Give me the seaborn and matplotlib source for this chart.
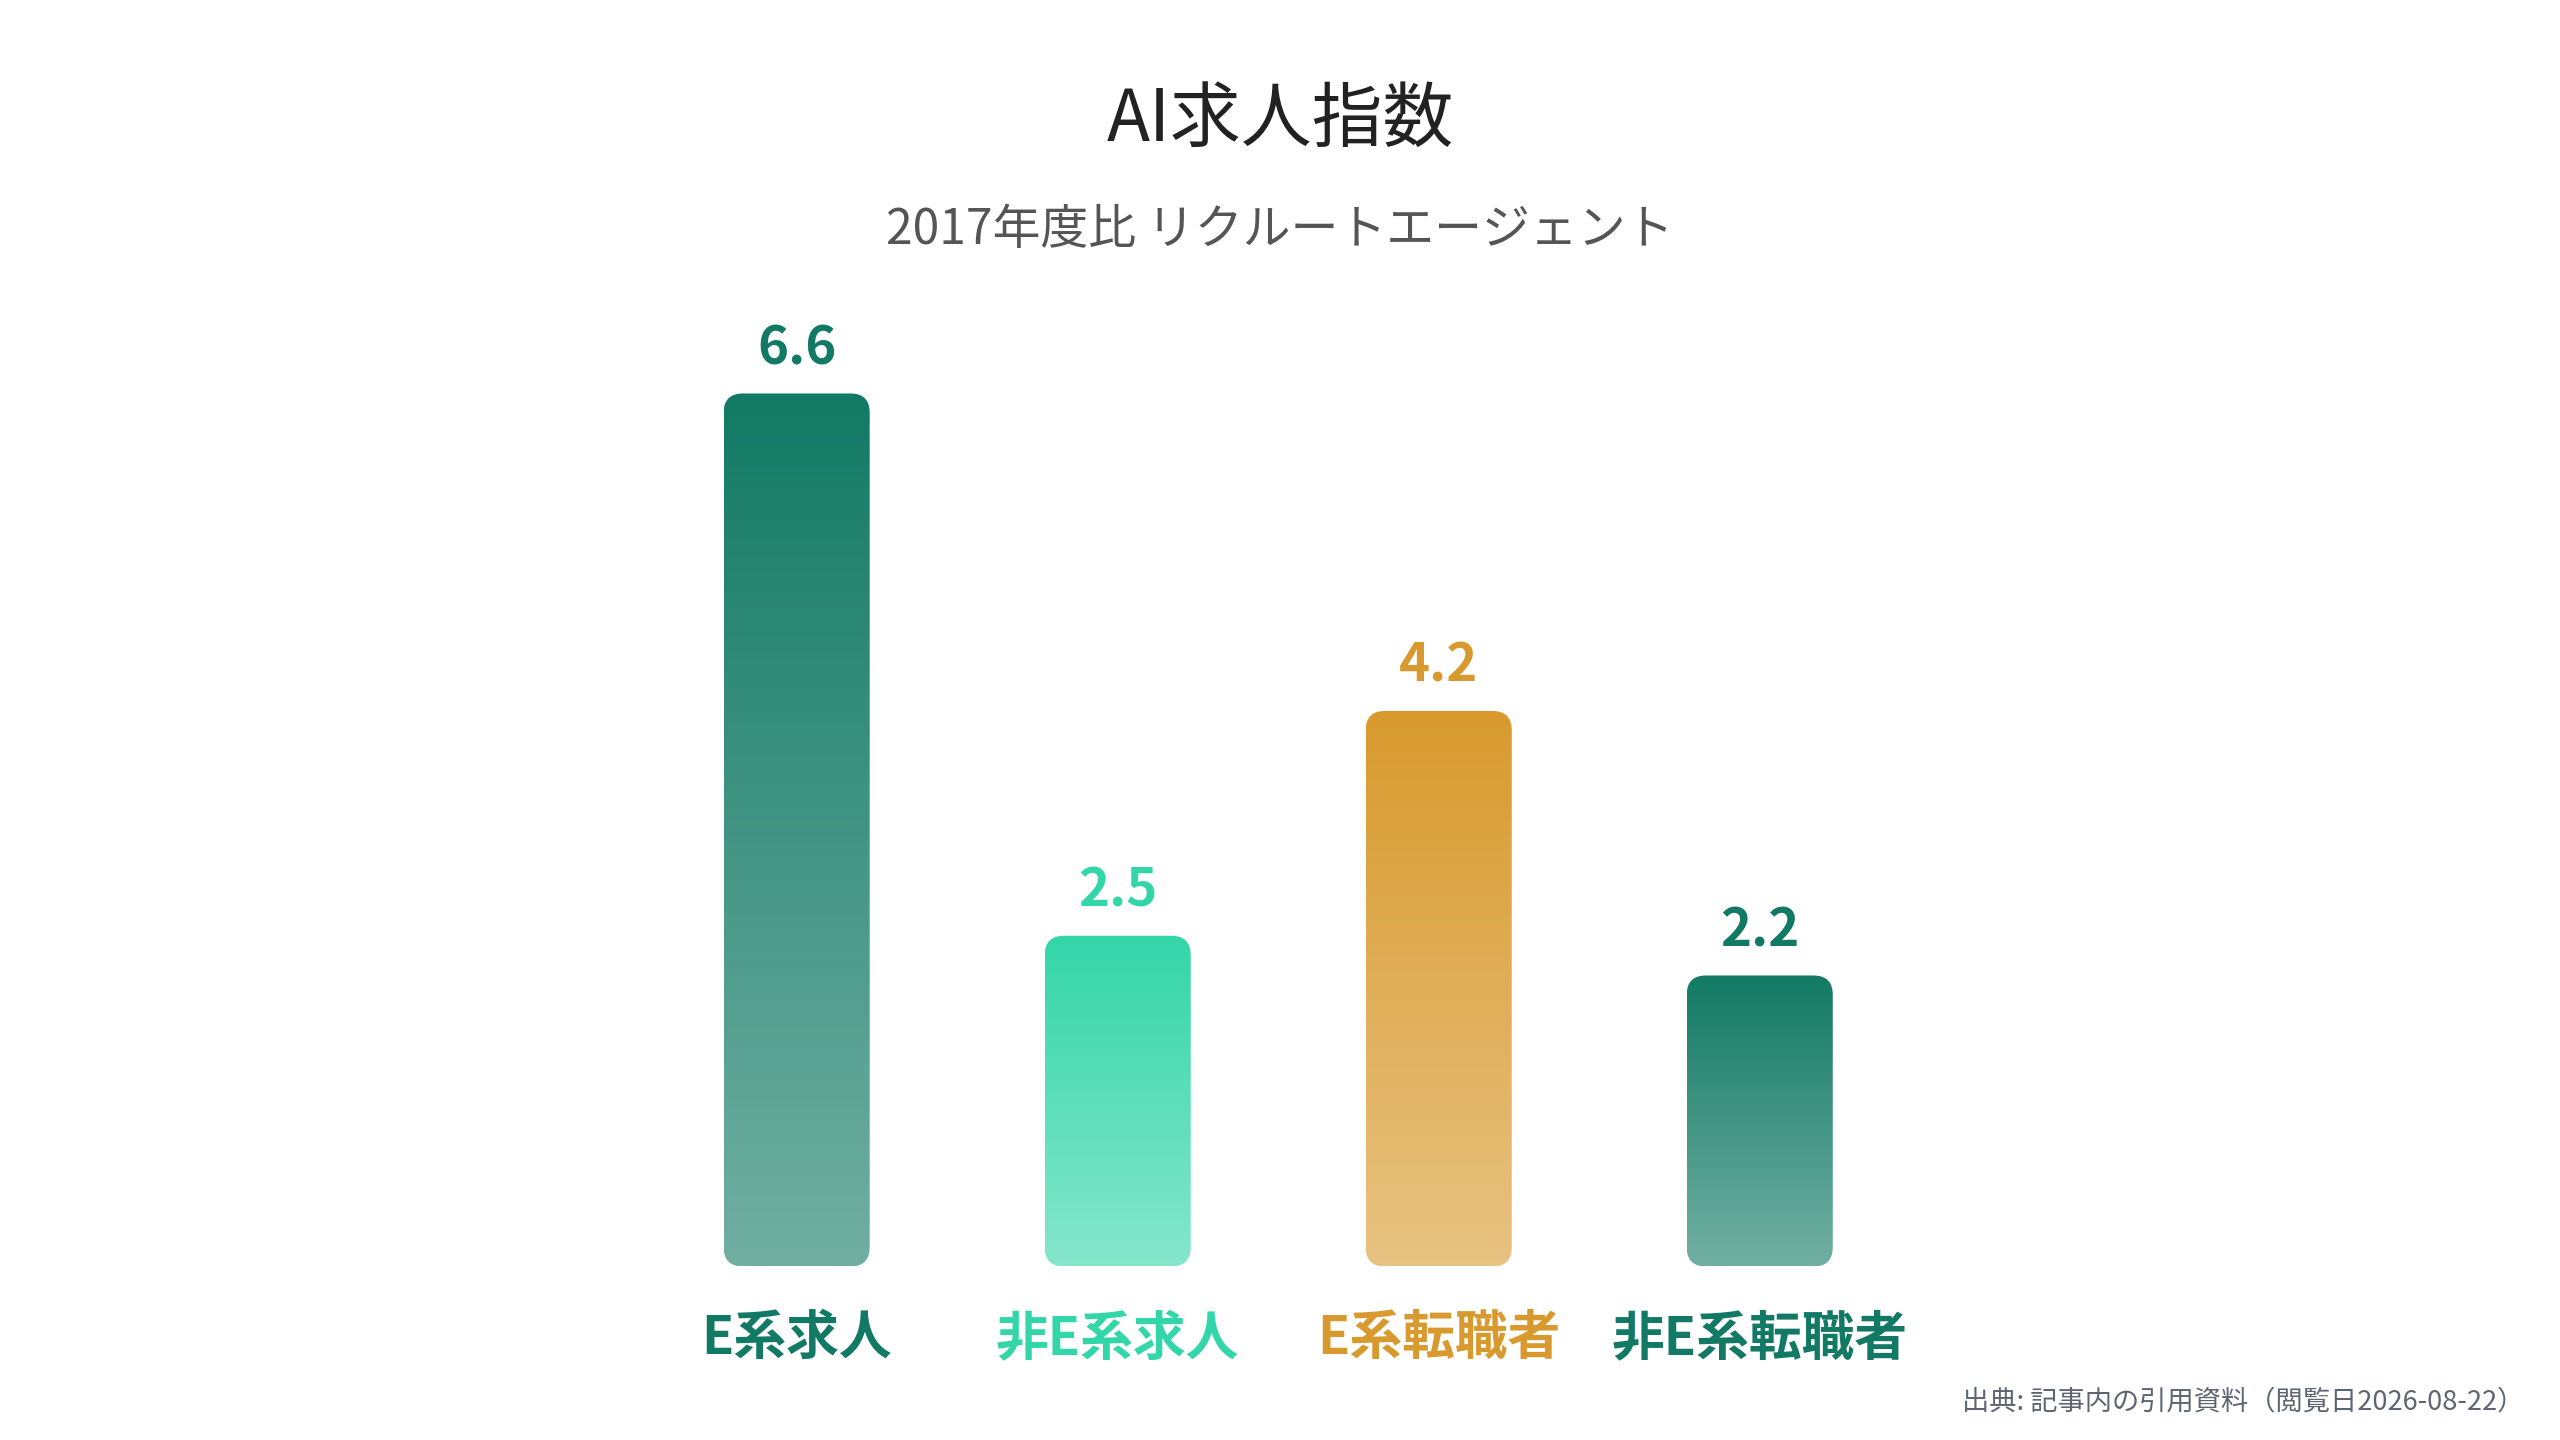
import numpy as np
import pandas as pd
import matplotlib.pyplot as plt
import seaborn as sns
from matplotlib.patches import FancyBboxPatch
from matplotlib.colors import to_rgb

# Data
categories = ['E系求人', '非E系求人', 'E系転職者', '非E系転職者']
values = [6.6, 2.5, 4.2, 2.2]
colors = ['#127a64', '#33d6a8', '#d89a2e', '#127a64']

df = pd.DataFrame({'category': categories, 'value': values})

sns.set_theme(style='white')
plt.rcParams['font.family'] = ['Noto Sans CJK JP', 'DejaVu Sans']

fig = plt.figure(figsize=(25.6, 14.4), dpi=100)
ax = fig.add_axes([0.2485, 0.1205, 0.5016, 0.643])

sns.barplot(data=df, x='category', y='value', hue='category',
            palette=colors, width=0.455, legend=False, ax=ax)
ax.set_xlim(-0.5, 3.5)
ax.set_ylim(0, 7)

# Replace flat bars with rounded gradient bars
for patch, col, val in zip(list(ax.patches), colors, values):
    x0, y0 = patch.get_x(), patch.get_y()
    w, h = patch.get_width(), patch.get_height()
    patch.set_visible(False)
    rounded = FancyBboxPatch((x0, y0), w, h,
                             boxstyle='round,pad=0,rounding_size=0.06',
                             mutation_aspect=7 / 4 * 1284 / 926,
                             facecolor='none', edgecolor='none')
    ax.add_patch(rounded)
    rgb = np.array(to_rgb(col))
    t = np.linspace(0, 1, 256)[:, None]
    alpha = 1.0 - 0.4 * t  # top strong, bottom lighter
    grad = rgb[None, :] * alpha + (1 - alpha) * 1.0
    img = ax.imshow(grad[:, None, :], extent=(x0, x0 + w, y0, y0 + h),
                    origin='upper', aspect='auto', zorder=2)
    img.set_clip_path(rounded)
    ax.annotate(f'{val:.1f}', (x0 + w / 2, h), xytext=(0, 13),
                textcoords='offset points', ha='center', va='bottom',
                fontsize=38, fontweight='bold', color=col)

ax.set_xlim(-0.5, 3.5)
ax.set_ylim(0, 7)
ax.set_xlabel('')
ax.set_ylabel('')
ax.set_yticks([])
ax.tick_params(axis='x', length=0, pad=33)
for lbl, col in zip(ax.get_xticklabels(), colors):
    lbl.set_color(col)
    lbl.set_fontsize(38)
    lbl.set_fontweight('bold')
sns.despine(ax=ax, left=True, bottom=True)

fig.text(0.5, 0.9165, 'AI求人指数', ha='center', va='center',
         fontsize=51, color='#222222')
fig.text(0.5, 0.840, '2017年度比 リクルートエージェント', ha='center', va='center',
         fontsize=34.5, color='#555555')
fig.text(0.986, 0.0265, '出典: 記事内の引用資料（閲覧日2026-08-22）', ha='right', va='center',
         fontsize=19.6, color='#5f6570')

fig.savefig('out.png', dpi=100, facecolor='white')
